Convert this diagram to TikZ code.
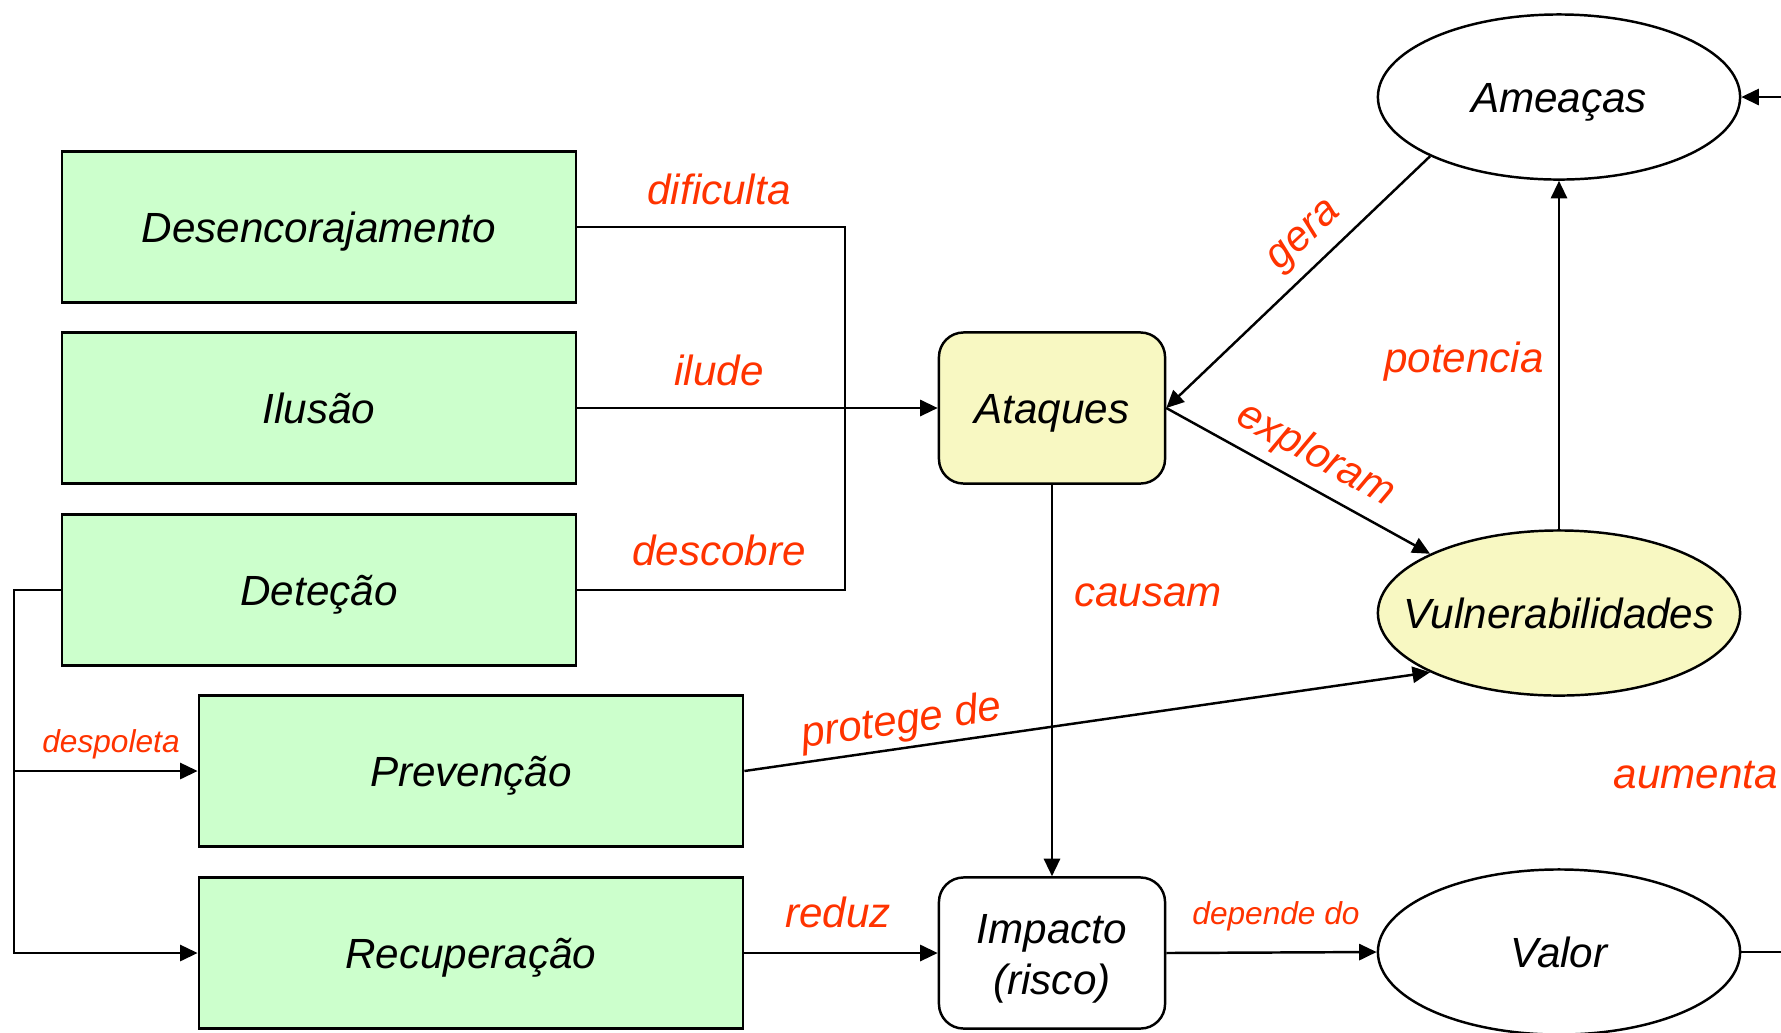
\documentclass[tikz,border=0pt]{standalone}
\usepackage{fontspec}
\setmainfont{Liberation Sans}
\usetikzlibrary{shapes.geometric,arrows.meta}
\definecolor{verde}{RGB}{204,255,204}
\definecolor{amarelo}{RGB}{248,248,194}
\definecolor{vermelho}{RGB}{255,51,0}
\begin{document}
\begin{tikzpicture}[x=0.01cm, y=-0.01cm,
  line width=0.7pt,
  font=\itshape\fontsize{12}{14.5}\selectfont,
  >={Triangle[length=5pt,width=4.6pt]},
  texto/.style={text height=9pt, text depth=0pt},
  caixa/.style={draw, fill=verde, texto, minimum height=1.51cm, inner sep=0pt},
  redonda/.style={draw, rounded corners=7pt, minimum width=2.26cm, minimum height=1.51cm, inner sep=0pt},
  elipse/.style={draw, ellipse, texto, minimum width=3.62cm, minimum height=1.65cm, inner sep=0pt},
  rotulo/.style={text=vermelho, texto, inner sep=0pt},
  pequeno/.style={text=vermelho, text height=7pt, text depth=0pt, inner sep=0pt,
    font=\itshape\fontsize{9}{11}\selectfont}]
\useasboundingbox (0,0) rectangle (1781,1032);

\node[caixa, minimum width=5.14cm](desenc) at (319,227){Desencorajamento};
\node[caixa, minimum width=5.14cm](ilusao) at (319,408){Ilusão};
\node[caixa, minimum width=5.14cm](detecao) at (319,590){Deteção};
\node[caixa, minimum width=5.44cm](prevencao) at (471,771){Prevenção};
\node[caixa, minimum width=5.44cm](recuperacao) at (471,953){Recuperação};
\node[redonda, texto, fill=amarelo](ataques) at (1052,408){Ataques};
\node[redonda, align=center](impacto) at (1052,953){\rule{0pt}{11.4pt}Impacto\\(risco)};
\node[elipse](ameacas) at (1559,97){\makebox[0pt]{Ameaças}};
\node[elipse, fill=amarelo](vulner) at (1559,613){\makebox[0pt]{Vulnerabilidades}};
\node[elipse](valor) at (1559,952){\makebox[0pt]{Valor}};

\coordinate (juncao) at (845,408);
\coordinate (esquerda) at (14,590);
\coordinate (borda1) at (1781,97);
\coordinate (borda2) at (1781,952);

% ligacoes
\draw (desenc.east) -| (juncao);
\draw (detecao.east) -| (juncao);
\draw[->] (ilusao.east) -- (ataques.west);
\draw[->] (detecao.west) -- (esquerda) |- (recuperacao.west);
\draw[->] (esquerda |- prevencao.west) -- (prevencao.west);
\draw[->] (prevencao.east) -- (vulner.south west);
\draw[->] (recuperacao.east) -- (impacto.west);
\draw[->] (impacto.east) -- (valor.west);
\draw[->] (ataques.south) -- (impacto.north);
\draw[->] (ataques.east) -- (vulner.north west);
\draw[->] (ameacas.south west) -- (ataques.east);
\draw[->] (vulner.north) -- (ameacas.south);
\draw[->] (borda1) -- (ameacas.east);
\draw (valor.east) -- (borda2);

% rotulos
\node[rotulo](dificulta) at (719,189){dificulta};
\node[rotulo](ilude) at (719,370){ilude};
\node[rotulo](descobre) at (719,550){descobre};
\node[pequeno](despoleta) at (111,740){despoleta};
\node[rotulo, rotate=8](protege) at (901,718){protege de};
\node[rotulo](reduz) at (838,912){reduz};
\node[pequeno](depende) at (1276,912){depende do};
\node[rotulo](causam) at (1148,591){causam};
\node[rotulo, rotate=-29](exploram) at (1318,451){exploram};
\node[rotulo, rotate=43](gera) at (1300,231){gera};
\node[rotulo](potencia) at (1464,357){potencia};
\node[rotulo](aumenta) at (1696,773){aumenta};
\end{tikzpicture}
\end{document}
